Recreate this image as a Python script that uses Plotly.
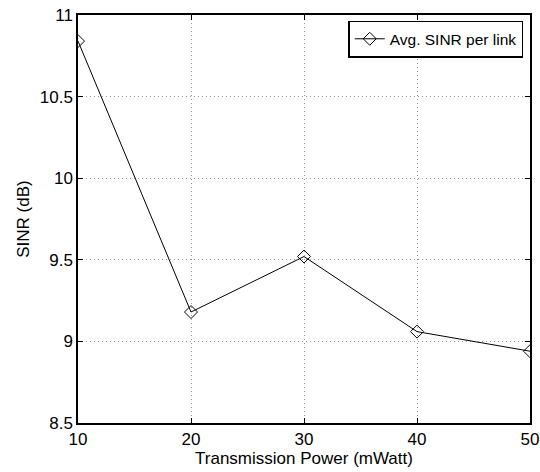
import plotly.graph_objects as go

power = [10, 20, 30, 40, 50]
sinr = [10.84, 9.18, 9.52, 9.06, 8.94]
series_name = "Avg. SINR per link"
x_ticks = [10, 20, 30, 40, 50]
y_ticks = [8.5, 9, 9.5, 10, 10.5, 11]
y_tick_text = ["8.5", "9", "9.5", "10", "10.5", "11"]

font = dict(family="Liberation Sans, Arial, sans-serif", size=17, color="black")

fig = go.Figure()
fig.add_trace(go.Scatter(
    x=power, y=sinr, mode="lines+markers", name=series_name,
    line=dict(color="black", width=1),
    marker=dict(symbol="diamond-open", size=10, color="black", line=dict(width=1)),
))

axis_common = dict(
    showline=True, linecolor="black", linewidth=1.5, mirror="ticks",
    ticks="inside", ticklen=5, tickcolor="black",
    showgrid=True, gridcolor="#999999", griddash="1px,3px", gridwidth=1,
    zeroline=False, tickfont=font, automargin=False,
)

fig.update_layout(
    width=540, height=472,
    margin=dict(l=78, r=10, t=15, b=49),
    paper_bgcolor="white", plot_bgcolor="white",
    font=font,
    showlegend=True,
    legend=dict(x=0.985, y=0.986, xanchor="right", yanchor="top",
                bgcolor="white", bordercolor="black", borderwidth=1.5,
                font=dict(family="Liberation Sans, Arial, sans-serif", size=15.5, color="black"),
                itemwidth=30, tracegroupgap=0),
    xaxis=dict(range=[10, 50], tickvals=x_ticks, ticktext=[str(v) for v in x_ticks],
               title=dict(text="Transmission Power (mWatt)", standoff=0, font=font),
               **axis_common),
    yaxis=dict(range=[8.5, 11], tickvals=y_ticks, ticktext=y_tick_text,
               title=dict(text="SINR (dB)", standoff=6, font=font),
               **axis_common),
)

fig.write_html("out.html")
